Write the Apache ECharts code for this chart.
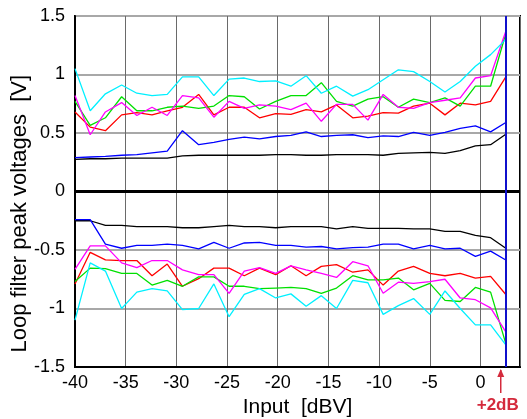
<!DOCTYPE html>
<html><head><meta charset="utf-8">
<script src="https://cdn.jsdelivr.net/npm/echarts@6/dist/echarts.min.js"></script>
<style>html,body{margin:0;padding:0;background:#fff}#c{width:527px;height:419px}</style>
</head><body><div id="c"></div>
<script>
// Input level (dBV) of each measurement
const xs = [-40, -38.5, -37, -35.4, -33.9, -32.4, -30.9, -29.4, -27.8, -26.3, -24.8, -23.3, -21.8, -20.2, -18.7, -17.2, -15.7, -14.2, -12.6, -11.1, -9.6, -8.1, -6.6, -5.0, -3.5, -2.0, -0.5, 1.0, 2.5];
const xTicks = [-40, -35, -30, -25, -20, -15, -10, -5, 0];
const yTicks = [-1.5, -1, -0.5, 0, 0.5, 1, 1.5];
const markerX = 2.0;      // "+2dB" arrow
const saturateX = 2.5;    // vertical clip line

// positive peaks
const blackU   = [0.275,0.28,0.28,0.285,0.285,0.285,0.285,0.305,0.31,0.31,0.31,0.31,0.31,0.315,0.315,0.31,0.31,0.315,0.315,0.315,0.31,0.325,0.33,0.335,0.325,0.35,0.39,0.40,0.49];
const blueU    = [0.29,0.295,0.30,0.31,0.315,0.33,0.345,0.52,0.40,0.42,0.445,0.465,0.45,0.47,0.48,0.51,0.47,0.48,0.485,0.46,0.475,0.47,0.505,0.48,0.505,0.54,0.56,0.51,0.59];
const redU     = [0.68,0.55,0.52,0.655,0.675,0.655,0.69,0.72,0.83,0.655,0.72,0.72,0.63,0.665,0.66,0.70,0.68,0.74,0.63,0.645,0.675,0.67,0.73,0.755,0.655,0.755,0.74,0.77,0.98];
const greenU   = [0.77,0.565,0.63,0.81,0.69,0.69,0.72,0.73,0.71,0.73,0.82,0.81,0.705,0.77,0.82,0.82,0.93,0.77,0.73,0.79,0.81,0.72,0.79,0.76,0.80,0.73,0.90,0.90,1.35];
const magentaU = [0.82,0.485,0.68,0.76,0.65,0.72,0.65,0.82,0.80,0.635,0.77,0.71,0.74,0.73,0.70,0.755,0.60,0.745,0.745,0.61,0.83,0.72,0.71,0.76,0.78,0.80,0.97,0.99,1.37];
const cyanU    = [1.05,0.69,0.835,0.91,0.84,0.82,0.83,0.98,0.98,0.82,0.96,0.97,0.94,0.945,0.90,0.99,0.84,0.90,0.815,0.87,0.955,1.04,1.025,0.94,0.85,0.94,1.07,1.17,1.30];
// negative peaks
const blackL   = [-0.25,-0.25,-0.29,-0.29,-0.30,-0.30,-0.30,-0.31,-0.31,-0.30,-0.29,-0.30,-0.30,-0.31,-0.30,-0.30,-0.30,-0.32,-0.30,-0.315,-0.315,-0.315,-0.32,-0.32,-0.34,-0.34,-0.375,-0.395,-0.485];
const blueL    = [-0.24,-0.24,-0.45,-0.485,-0.46,-0.46,-0.45,-0.46,-0.49,-0.435,-0.485,-0.44,-0.435,-0.46,-0.46,-0.475,-0.47,-0.49,-0.48,-0.475,-0.45,-0.45,-0.49,-0.46,-0.49,-0.485,-0.555,-0.51,-0.585];
const redL     = [-0.79,-0.52,-0.585,-0.59,-0.59,-0.72,-0.62,-0.81,-0.745,-0.655,-0.655,-0.72,-0.655,-0.71,-0.635,-0.72,-0.64,-0.625,-0.69,-0.67,-0.80,-0.68,-0.64,-0.70,-0.72,-0.70,-0.74,-0.725,-0.88];
const greenL   = [-0.77,-0.655,-0.66,-0.70,-0.70,-0.80,-0.76,-0.81,-0.73,-0.73,-0.81,-0.81,-0.83,-0.825,-0.82,-0.83,-0.87,-0.825,-0.72,-0.755,-0.755,-0.74,-0.84,-0.785,-0.93,-0.94,-0.82,-0.86,-1.30];
const magentaL = [-0.665,-0.465,-0.465,-0.61,-0.65,-0.59,-0.59,-0.67,-0.71,-0.71,-0.87,-0.68,-0.65,-0.70,-0.635,-0.67,-0.70,-0.735,-0.60,-0.635,-0.87,-0.775,-0.785,-0.77,-0.75,-0.91,-0.925,-0.995,-1.20];
const cyanL    = [-1.10,-0.61,-0.68,-1.00,-0.86,-0.83,-0.85,-1.01,-1.00,-0.79,-1.07,-0.88,-0.83,-0.91,-0.875,-0.98,-0.89,-1.0,-0.76,-0.78,-1.05,-0.975,-0.915,-1.05,-0.85,-1.0,-1.14,-1.14,-1.31];

const traces = [
  ['#000000', blackU, blackL],
  ['#0000ff', blueU, blueL],
  ['#ff0000', redU, redL],
  ['#00e000', greenU, greenL],
  ['#ff00ff', magentaU, magentaL],
  ['#00f0ff', cyanU, cyanL]
];
const pair = v => xs.map((x, i) => [x, v[i]]);
const series = [];
traces.forEach(([c, u, l]) => {
  [u, l].forEach(v => series.push({
    type: 'line', data: pair(v), symbol: 'none', clip: true,
    lineStyle: { color: c, width: 1.3 }, silent: true, animation: false
  }));
});
series.push({
  type: 'line', data: [], silent: true, animation: false,
  markLine: { symbol: 'none', silent: true, label: { show: false }, animation: false,
    data: [
      { yAxis: 0, lineStyle: { color: '#000', width: 3, type: 'solid' } },
      { xAxis: saturateX, lineStyle: { color: '#1010cc', width: 2, type: 'solid' } }
    ] }
});

const FONT = 'Liberation Sans, Arial, sans-serif';
const chart = echarts.init(document.getElementById('c'), null, { renderer: 'canvas' });
const tickFont = { fontFamily: FONT, fontSize: 18, color: '#000' };
chart.setOption({
  backgroundColor: '#fff',
  animation: false,
  grid: { left: 75, right: 7, top: 16, bottom: 52, containLabel: false, outerBoundsMode: 'none',
    show: true, borderColor: '#000', borderWidth: 2, backgroundColor: 'transparent' },
  xAxis: {
    type: 'value', min: -40, max: 3.9, interval: 5,
    axisLine: { show: true, onZero: false, lineStyle: { color: '#000', width: 2 } },
    axisTick: { show: false },
    splitLine: { show: true, lineStyle: { color: '#6a6a6a', width: 1 } },
    axisLabel: Object.assign({ margin: 7, showMaxLabel: false,
      formatter: v => xTicks.includes(v) ? String(v) : '' }, tickFont),
    name: 'Input  [dBV]', nameLocation: 'middle', nameGap: 18,
    nameTextStyle: { fontFamily: FONT, fontSize: 21, color: '#000', verticalAlign: 'top' }
  },
  yAxis: {
    type: 'value', min: -1.5, max: 1.5, interval: 0.5,
    axisLine: { show: true, onZero: false, lineStyle: { color: '#000', width: 2 } },
    axisTick: { show: false },
    splitLine: { show: true, lineStyle: { color: '#a8a8a8', width: 2 } },
    axisLabel: Object.assign({ margin: 10, formatter: v => yTicks.includes(v) ? String(v) : '' }, tickFont)
  },
  series: series
});

// annotations positioned through the chart's own scale
const px = chart.convertToPixel({ gridIndex: 0 }, [markerX, -1.5]);
const mid = chart.convertToPixel({ gridIndex: 0 }, [-40, -0.19]);
chart.setOption({
  graphic: [
    { type: 'text', x: mid[0] - 55, y: mid[1], rotation: Math.PI / 2,
      style: { text: 'Loop filter peak voltages  [V]', fill: '#000', font: '22px ' + FONT, align: 'center', verticalAlign: 'middle' }, silent: true },
    { type: 'line', shape: { x1: px[0], y1: px[1] + 3, x2: px[0], y2: px[1] + 26 }, style: { stroke: '#d42a3c', lineWidth: 1.5 }, silent: true },
    { type: 'polygon', shape: { points: [[px[0], px[1] + 2], [px[0] - 3.5, px[1] + 10], [px[0] + 3.5, px[1] + 10]] }, style: { fill: '#d42a3c' }, silent: true },
    { type: 'text', x: px[0] - 3, y: px[1] + 38, style: { text: '+2dB', fill: '#d42a3c', font: 'bold 17px ' + FONT, align: 'center', verticalAlign: 'middle' }, silent: true }
  ]
});
</script></body></html>
